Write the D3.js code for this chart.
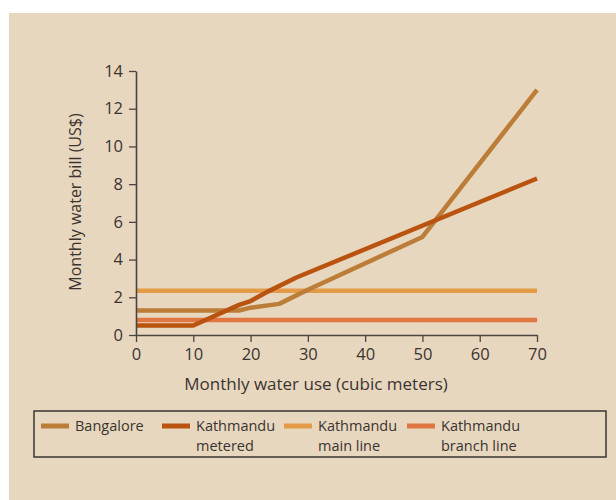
<!DOCTYPE html>
<html><head><meta charset="utf-8">
<script src="https://cdn.jsdelivr.net/npm/d3@7"></script>
<style>
body{margin:0;background:#fff;}
svg{display:block;}
text{font-family:"Open Sans",Lato,sans-serif;fill:#3a3430;}
</style></head>
<body><svg id="c" width="616" height="500"></svg>
<script>
const xTicks = [0,10,20,30,40,50,60,70];
const yTicks = [0,2,4,6,8,10,12,14];
const bangaloreX = [0,18,20,25,30,50,70];
const bangaloreY = [1.3,1.3,1.45,1.65,2.4,5.2,13];
const meteredX = [0,10,18,20,23,28,70];
const meteredY = [0.5,0.5,1.6,1.8,2.3,3.05,8.3];
const mainLineX = [0,70];
const mainLineY = [2.35,2.35];
const branchLineX = [0,70];
const branchLineY = [0.8,0.8];
const seriesNames = [["Bangalore"],["Kathmandu","metered"],["Kathmandu","main line"],["Kathmandu","branch line"]];
const colors = ["#bb7d38","#b9530f","#e49b48","#e07642"];

const FONT = "'Open Sans',Lato,sans-serif";
const svg = d3.select("#c");
svg.append("rect").attr("x",9).attr("y",13).attr("width",607).attr("height",487).attr("fill","#e8d7bf");

const x = d3.scaleLinear().domain([0,70]).range([136,537]);
const y = d3.scaleLinear().domain([0,14]).range([335,71]);

const series = [
  {xs:bangaloreX, ys:bangaloreY},
  {xs:meteredX, ys:meteredY},
  {xs:mainLineX, ys:mainLineY},
  {xs:branchLineX, ys:branchLineY}
];
const line = d3.line().x(d=>x(d[0])).y(d=>y(d[1]));
const order = [3,2,0,1];
order.forEach(i=>{
  const s = series[i];
  svg.append("path").datum(s.xs.map((v,j)=>[v,s.ys[j]]))
    .attr("d",line).attr("fill","none").attr("stroke",colors[i])
    .attr("stroke-width",4.5).attr("stroke-linejoin","round");
});

const axCol = "#4a4440";
const gx = svg.append("g").attr("transform","translate(0,335)")
  .call(d3.axisBottom(x).tickValues(xTicks).tickSize(7).tickPadding(6).tickSizeOuter(0));
const gy = svg.append("g").attr("transform","translate(136,0)")
  .call(d3.axisLeft(y).tickValues(yTicks).tickSize(7).tickPadding(6).tickSizeOuter(0));
[gx,gy].forEach(g=>{
  g.attr("font-family",FONT).attr("font-size",16.5);
  g.select(".domain").attr("stroke",axCol).attr("stroke-width",1.6);
  g.selectAll(".tick line").attr("stroke",axCol).attr("stroke-width",1.3);
  g.selectAll(".tick text").attr("fill","#3a3430");
});

svg.append("text").attr("x",316).attr("y",390).attr("text-anchor","middle")
  .attr("font-size",17).text("Monthly water use (cubic meters)");
svg.append("text").attr("transform","translate(81,202) rotate(-90)").attr("text-anchor","middle")
  .attr("font-size",16).text("Monthly water bill (US$)");

// legend
svg.append("rect").attr("x",34).attr("y",411).attr("width",572).attr("height",46)
  .attr("fill","none").attr("stroke","#3a3430").attr("stroke-width",1.5);
const legX = [41,162,284,407];
seriesNames.forEach((nm,i)=>{
  svg.append("line").attr("x1",legX[i]).attr("x2",legX[i]+28).attr("y1",426).attr("y2",426)
    .attr("stroke",colors[i]).attr("stroke-width",5);
  nm.forEach((s,k)=>{
    svg.append("text").attr("x",legX[i]+34).attr("y",431+k*19.8).attr("font-size",14.5).text(s);
  });
});
</script></body></html>
